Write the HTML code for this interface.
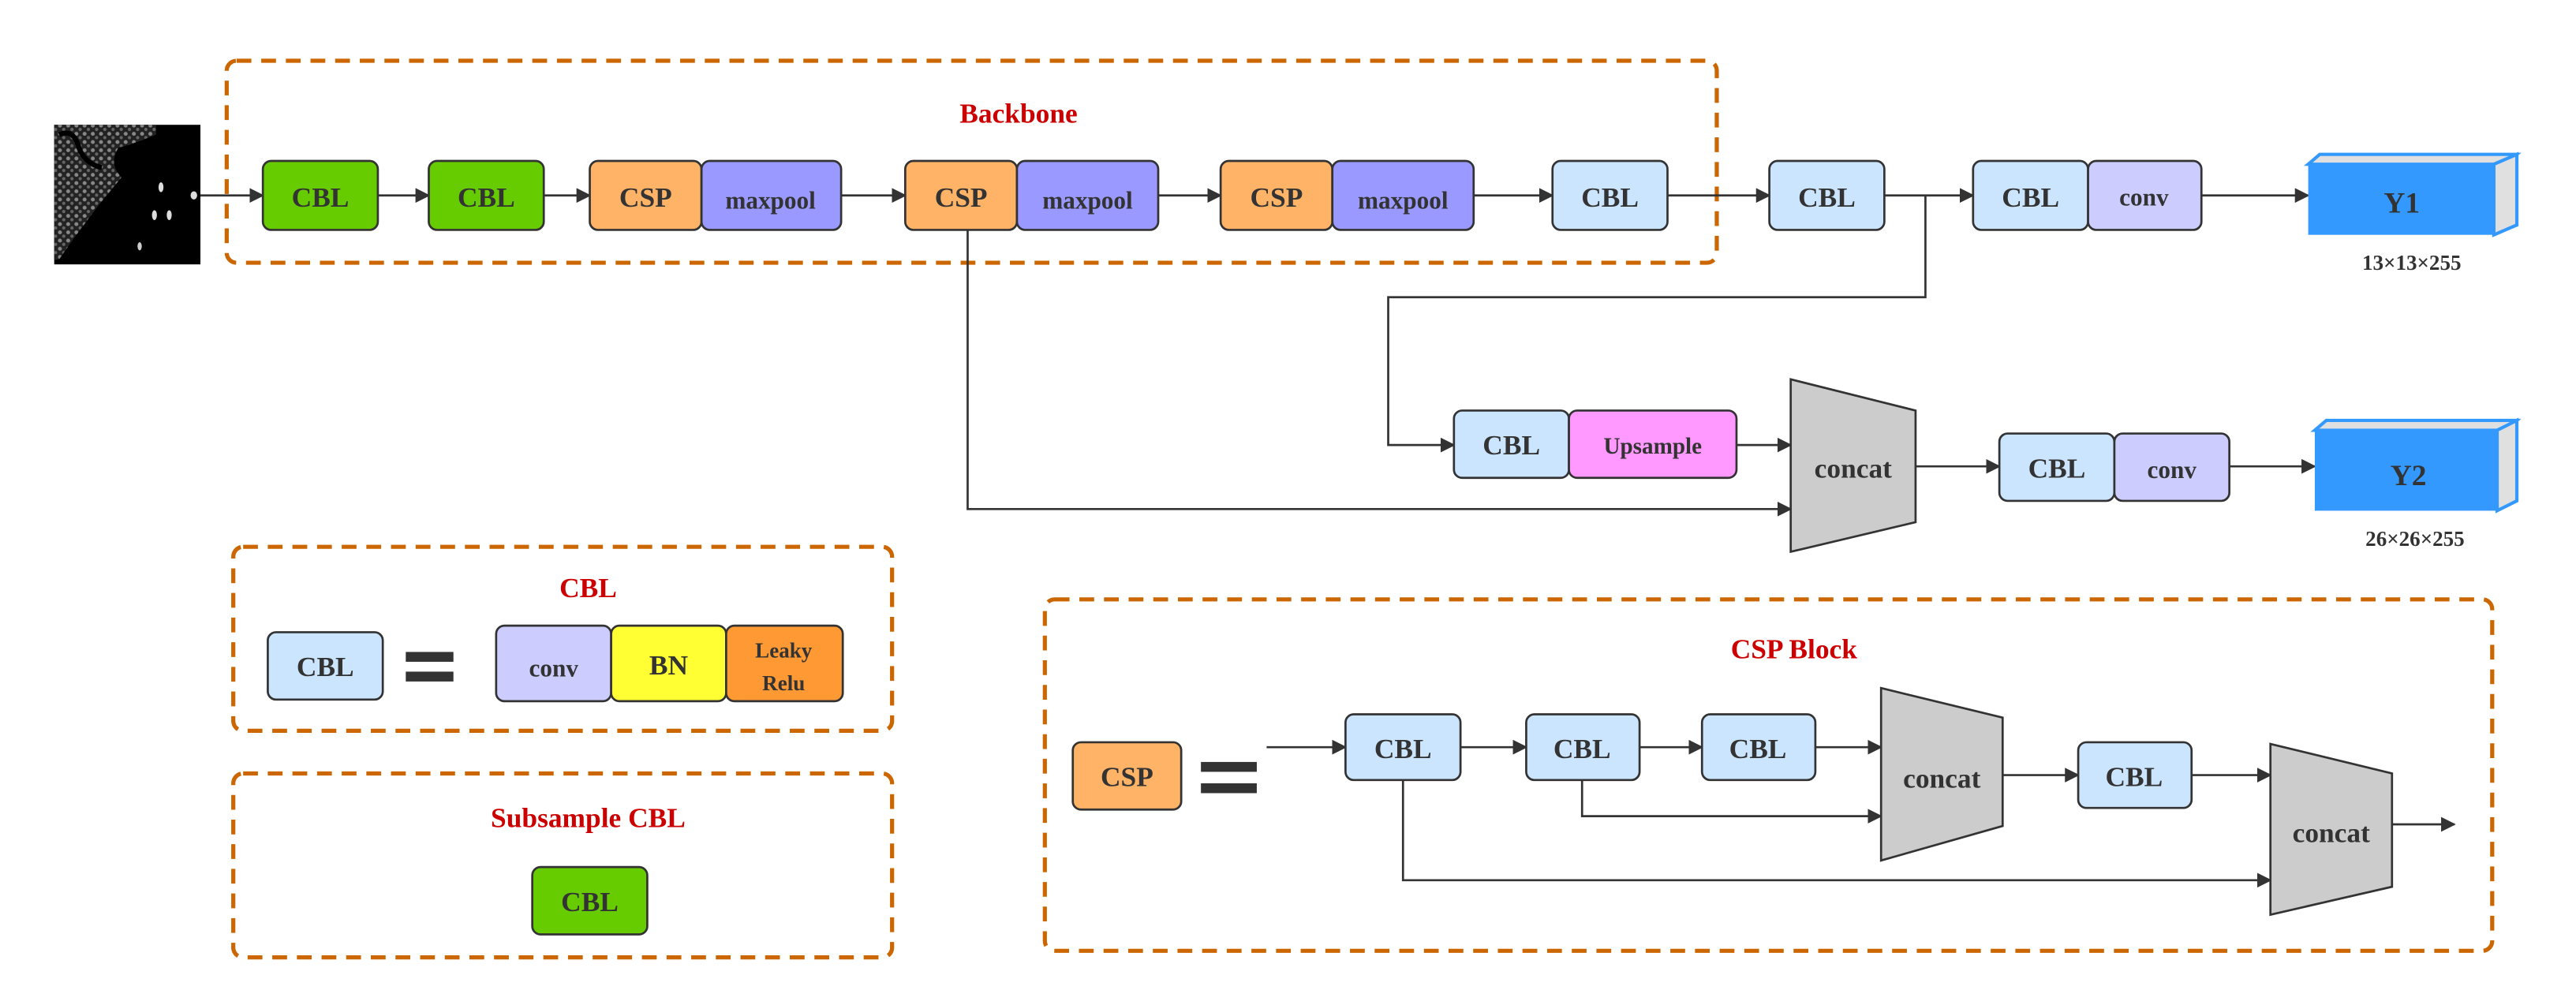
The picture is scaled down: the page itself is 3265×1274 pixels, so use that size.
<!DOCTYPE html>
<html><head><meta charset="utf-8"><style>
html,body{margin:0;padding:0;background:#fff;}
svg{display:block;}
text{font-family:"Liberation Serif",serif;font-weight:bold;fill:#333;text-anchor:middle;dominant-baseline:central;}
.t{fill:#cc0000;}
.b{stroke:#333;stroke-width:1.3;}
.ln{stroke:#333;stroke-width:1.3;fill:none;}
.dash{fill:none;stroke:#cc6600;stroke-width:2.5;stroke-dasharray:9,6;}
</style></head><body>
<svg width="3265" height="1274" viewBox="0 0 1568 612" preserveAspectRatio="none" xmlns="http://www.w3.org/2000/svg">
<defs>
<marker id="a" viewBox="0 0 10 10" refX="9" refY="5" markerWidth="9" markerHeight="9" markerUnits="userSpaceOnUse" orient="auto"><path d="M0,0L10,5L0,10z" fill="#333"/></marker>
<pattern id="n" width="5" height="5" patternUnits="userSpaceOnUse"><rect width="5" height="5" fill="#222"/><circle cx="1.5" cy="1.5" r="1.2" fill="#888"/><circle cx="3.8" cy="3.8" r="1" fill="#666"/></pattern>
</defs>
<rect class="dash" x="138" y="37" width="907" height="123" rx="6"/>
<rect class="dash" x="142" y="333" width="401" height="112" rx="6"/>
<rect class="dash" x="142" y="471" width="401" height="112" rx="6"/>
<rect class="dash" x="636" y="365" width="881" height="214" rx="6"/>
<text class="t" x="620" y="69" font-size="17">Backbone</text>
<text class="t" x="358" y="358" font-size="17">CBL</text>
<text class="t" x="358" y="498" font-size="17">Subsample CBL</text>
<text class="t" x="1092" y="395" font-size="17">CSP Block</text>
<rect x="33" y="76" width="89" height="85" fill="#000"/>
<path d="M33,76L95,76L95,82Q80,88 72,90Q66,100 74,108L60,125L45,145L36,158L33,158Z" fill="url(#n)"/>
<path d="M36,82Q45,78 48,90Q52,100 62,102" stroke="#000" stroke-width="3" fill="none"/>
<ellipse cx="98" cy="114" rx="1.5" ry="3" fill="#ddd"/><ellipse cx="94" cy="131" rx="1.5" ry="3" fill="#ddd"/><ellipse cx="103" cy="131" rx="1.5" ry="3" fill="#ddd"/><ellipse cx="118" cy="119" rx="2" ry="2.5" fill="#ddd"/><ellipse cx="85" cy="150" rx="1.3" ry="2.5" fill="#ccc"/>
<g class="ln" marker-end="url(#a)">
<line x1="122" y1="119" x2="160" y2="119"/>
<line x1="230" y1="119" x2="261" y2="119"/>
<line x1="331" y1="119" x2="359" y2="119"/>
<line x1="512" y1="119" x2="551" y2="119"/>
<line x1="705" y1="119" x2="743" y2="119"/>
<line x1="897" y1="119" x2="945" y2="119"/>
<line x1="1015" y1="119" x2="1077" y2="119"/>
<line x1="1147" y1="119" x2="1201" y2="119"/>
<line x1="1340" y1="119" x2="1405" y2="119"/>
<polyline points="1172,119 1172,181 845,181 845,271 885,271"/>
<line x1="1057" y1="271" x2="1090" y2="271"/>
<polyline points="589,139 589,310 1090,310"/>
<line x1="1166" y1="284" x2="1217" y2="284"/>
<line x1="1357" y1="284" x2="1409" y2="284"/>
<line x1="771" y1="455" x2="819" y2="455"/>
<line x1="889" y1="455" x2="929" y2="455"/>
<line x1="998" y1="455" x2="1036" y2="455"/>
<line x1="1105" y1="455" x2="1145" y2="455"/>
<polyline points="963,475 963,497 1145,497"/>
<polyline points="854,475 854,536 1382,536"/>
<line x1="1219" y1="472" x2="1265" y2="472"/>
<line x1="1334" y1="472" x2="1382" y2="472"/>
<line x1="1456" y1="502" x2="1494" y2="502"/>
</g>
<g class="b">
<rect x="160" y="98" width="70" height="42" rx="5" fill="#66cc00"/>
<rect x="261" y="98" width="70" height="42" rx="5" fill="#66cc00"/>
<rect x="359" y="98" width="68" height="42" rx="5" fill="#ffb366"/>
<rect x="427" y="98" width="85" height="42" rx="5" fill="#9999ff"/>
<rect x="551" y="98" width="68" height="42" rx="5" fill="#ffb366"/>
<rect x="619" y="98" width="86" height="42" rx="5" fill="#9999ff"/>
<rect x="743" y="98" width="68" height="42" rx="5" fill="#ffb366"/>
<rect x="811" y="98" width="86" height="42" rx="5" fill="#9999ff"/>
<rect x="945" y="98" width="70" height="42" rx="5" fill="#cce5ff"/>
<rect x="1077" y="98" width="70" height="42" rx="5" fill="#cce5ff"/>
<rect x="1201" y="98" width="70" height="42" rx="5" fill="#cce5ff"/>
<rect x="1271" y="98" width="69" height="42" rx="5" fill="#ccccff"/>
<rect x="885" y="250" width="70" height="41" rx="5" fill="#cce5ff"/>
<rect x="955" y="250" width="102" height="41" rx="5" fill="#ff99ff"/>
<polygon points="1090,231 1166,250 1166,318 1090,336" fill="#cccccc"/>
<rect x="1217" y="264" width="70" height="41" rx="5" fill="#cce5ff"/>
<rect x="1287" y="264" width="70" height="41" rx="5" fill="#ccccff"/>
<rect x="163" y="385" width="70" height="41" rx="5" fill="#cce5ff"/>
<rect x="302" y="381" width="70" height="46" rx="5" fill="#ccccff"/>
<rect x="372" y="381" width="70" height="46" rx="5" fill="#ffff33"/>
<rect x="442" y="381" width="71" height="46" rx="5" fill="#ff9933"/>
<rect x="324" y="528" width="70" height="41" rx="5" fill="#66cc00"/>
<rect x="653" y="452" width="66" height="41" rx="5" fill="#ffb366"/>
<rect x="819" y="435" width="70" height="40" rx="5" fill="#cce5ff"/>
<rect x="929" y="435" width="69" height="40" rx="5" fill="#cce5ff"/>
<rect x="1036" y="435" width="69" height="40" rx="5" fill="#cce5ff"/>
<polygon points="1145,419 1219,437 1219,503 1145,524" fill="#cccccc"/>
<rect x="1265" y="452" width="69" height="40" rx="5" fill="#cce5ff"/>
<polygon points="1382,453 1456,471 1456,540 1382,557" fill="#cccccc"/>
</g>
<rect x="247" y="397" width="29" height="6" fill="#333"/><rect x="247" y="409" width="29" height="6" fill="#333"/>
<rect x="731" y="464" width="34" height="6" fill="#333"/><rect x="731" y="477" width="34" height="6" fill="#333"/>
<polygon points="1405,100 1412,94 1532,94 1525,100" fill="#e0e0e0" stroke="#3399ff" stroke-width="2"/>
<polygon points="1518,100 1532,94 1532,137 1518,143" fill="#e0e0e0" stroke="#3399ff" stroke-width="2"/>
<rect x="1405" y="100" width="113" height="43" fill="#3399ff"/>
<polygon points="1409,262 1416,256 1532,256 1525,262" fill="#e0e0e0" stroke="#3399ff" stroke-width="2"/>
<polygon points="1520,262 1532,256 1532,305 1520,311" fill="#e0e0e0" stroke="#3399ff" stroke-width="2"/>
<rect x="1409" y="262" width="111" height="49" fill="#3399ff"/>
<g font-size="17">
<text x="195" y="120">CBL</text><text x="296" y="120">CBL</text>
<text x="393" y="120">CSP</text><text x="585" y="120">CSP</text><text x="777" y="120">CSP</text>
<text x="980" y="120">CBL</text><text x="1112" y="120">CBL</text><text x="1236" y="120">CBL</text>
<text x="1462" y="124" font-size="18">Y1</text><text x="1466" y="290" font-size="18">Y2</text>
<text x="920" y="271">CBL</text><text x="1128" y="285">concat</text>
<text x="1252" y="285">CBL</text>
<text x="198" y="406">CBL</text><text x="407" y="405">BN</text>
<text x="359" y="549">CBL</text><text x="686" y="473">CSP</text>
<text x="854" y="456">CBL</text><text x="963" y="456">CBL</text><text x="1070" y="456">CBL</text>
<text x="1182" y="474">concat</text><text x="1299" y="473">CBL</text><text x="1419" y="507">concat</text>
</g>
<g font-size="15">
<text x="469" y="122">maxpool</text><text x="662" y="122">maxpool</text><text x="854" y="122">maxpool</text>
<text x="1305" y="120">conv</text><text x="1322" y="286">conv</text>
<text x="1006" y="272" font-size="14">Upsample</text>
<text x="337" y="407">conv</text>
<text x="477" y="396" font-size="13">Leaky</text><text x="477" y="416" font-size="13">Relu</text>
<text x="1468" y="160" font-size="13">13×13×255</text>
<text x="1470" y="328" font-size="13">26×26×255</text>
</g>
</svg>
</body></html>
